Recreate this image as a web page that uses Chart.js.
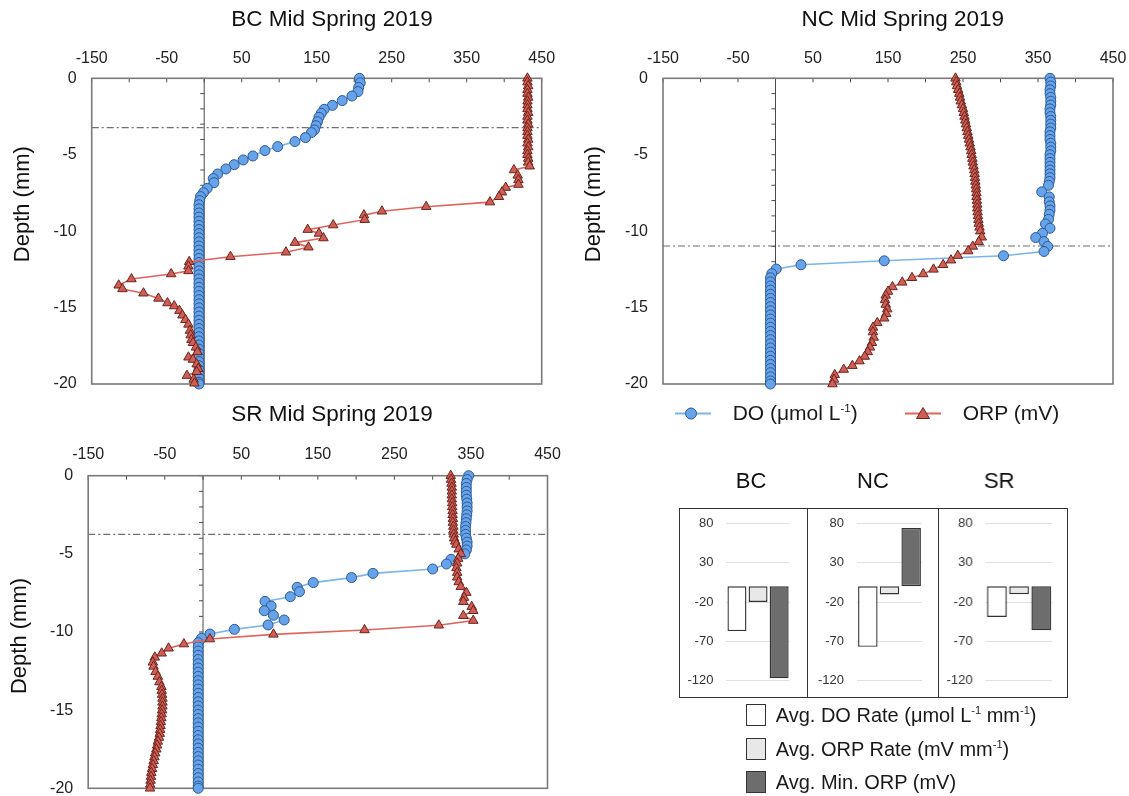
<!DOCTYPE html>
<html><head><meta charset="utf-8">
<script src="https://cdn.jsdelivr.net/npm/chart.js@4.4.1/dist/chart.umd.min.js"></script>
<style>
html,body{margin:0;padding:0;background:#fff;width:1129px;height:796px;overflow:hidden;position:relative;font-family:'Liberation Sans',Arial,sans-serif;color:#1a1a1a;}
.c{position:absolute;}
.box{position:absolute;border:1.5px solid #333;box-sizing:border-box;}
.t{position:absolute;white-space:nowrap;line-height:26px;}
.t sup{font-size:0.55em;position:relative;top:-0.75em;vertical-align:baseline;line-height:0;}
.sq{position:absolute;width:20px;height:22px;border:1.5px solid #333;box-sizing:border-box;}
</style></head><body>

<div class="box" style="left:678.5px;top:507.5px;width:129.5px;height:190.5px"></div>
<div class="box" style="left:806.5px;top:507.5px;width:132.5px;height:190.5px"></div>
<div class="box" style="left:937.5px;top:507.5px;width:130.5px;height:190.5px"></div>

<div class="c" style="left:0;top:0;width:664px;height:415px"><canvas id="bc"></canvas></div>
<div class="c" style="left:575px;top:0;width:655.4px;height:415px"><canvas id="nc"></canvas></div>
<div class="c" style="left:0;top:395px;width:664px;height:425px"><canvas id="sr"></canvas></div>

<div class="c" style="left:679.3px;top:455px;width:144px;height:255px"><canvas id="bbc"></canvas></div>
<div class="c" style="left:806.7px;top:455px;width:132px;height:255px"><canvas id="bnc"></canvas></div>
<div class="c" style="left:938.3px;top:455px;width:121.4px;height:255px"><canvas id="bsr"></canvas></div>

<svg class="c" style="left:675px;top:403.8px" width="36" height="19"><line x1="0" y1="9.5" x2="36" y2="9.5" stroke="#7ab6ee" stroke-width="2"/><circle cx="16" cy="9.5" r="5.5" fill="#66a3ea" stroke="#2d5a92" stroke-width="1"/></svg>
<div class="t" style="left:732.7px;top:400.3px;font-size:21px">DO (μmol L<sup>-1</sup>)</div>
<svg class="c" style="left:905px;top:403.8px" width="36" height="19"><line x1="0" y1="9.5" x2="36" y2="9.5" stroke="#e0645c" stroke-width="2"/><polygon points="18,3.5 24.5,14.5 11.5,14.5" fill="#cf5f55" stroke="#6e231d" stroke-width="1"/></svg>
<div class="t" style="left:962.7px;top:400.3px;font-size:21px">ORP (mV)</div>

<div class="sq" style="left:745.7px;top:704px;background:#fff"></div>
<div class="t" style="left:775.7px;top:702px;font-size:20px">Avg. DO Rate (μmol L<sup>-1</sup> mm<sup>-1</sup>)</div>
<div class="sq" style="left:745.7px;top:738.3px;background:#e8e8e8"></div>
<div class="t" style="left:775.7px;top:736.3px;font-size:20px">Avg. ORP Rate (mV mm<sup>-1</sup>)</div>
<div class="sq" style="left:745.7px;top:771px;background:#6d6d6d"></div>
<div class="t" style="left:775.7px;top:769px;font-size:20px">Avg. Min. ORP (mV)</div>

<script>
// ---------- data: BC ----------
const bcDoDepth = [0,-0.3,-0.6,-0.87,-1.16,-1.46,-1.77,-2.03,-2.29,-2.55,-2.84,-3.1,-3.38,-3.55,-3.88,-4.14,-4.47,-4.73,-5.08,-5.34,-5.65,-5.93,-6.26,-6.56,-6.83,-7.2,-7.48,-7.74,-8.0,
  -8.27,-8.54,-8.81,-9.08,-9.35,-9.62,-9.89,-10.16,-10.43,-10.7,-10.97,-11.24,-11.51,-11.78,-12.05,-12.32,-12.59,-12.86,-13.13,-13.4,-13.67,-13.94,-14.21,-14.48,-14.75,-15.02,-15.29,-15.56,-15.83,-16.1,-16.37,-16.64,-16.91,-17.18,-17.45,-17.72,-17.99,-18.26,-18.53,-18.8,-19.07,-19.34,-19.61,-19.88,-20];
const bcDo = [207,208,206,205,197,184,171,160,156,153,151,149,147,143,135,121,98,81,65,52,40,29,18,12,13,4,-1,-5,-6,
  -7,-7,-7,-7,-7,-7,-7,-7,-7,-7,-7,-7,-7,-7,-7,-7,-7,-7,-7,-7,-7,-7,-7,-7,-7,-7,-7,-7,-7,-7,-7,-7,-7,-7,-7,-7,-7,-7,-7,-7,-7,-7,-7,-7,-7];
const bcOrpDepth = [0,-0.25,-0.5,-0.75,-1,-1.25,-1.5,-1.75,-2,-2.25,-2.5,-2.75,-3,-3.25,-3.5,-3.75,-4,-4.25,-4.5,-4.75,-5,-5.25,-5.5,
  -5.75,-6.0,-6.35,-6.65,-6.95,-7.15,-7.45,-7.75,-8.1,-8.4,-8.7,-8.95,-9.25,-9.6,-9.9,-10.15,-10.45,-10.75,-11.05,-11.38,
  -11.67,-12.0,-12.3,-12.6,-12.8,-13.13,-13.54,-13.78,-14.06,-14.4,-14.7,-14.9,-15.2,-15.5,-15.8,-16.1,-16.5,-16.8,-17.1,-17.3,
  -17.6,-17.9,-18.25,-18.4,-18.7,-19.0,-19.2,-19.45,-19.7,-19.95];
const bcOrp = [431,431,432,431,431,432,431,431,431,432,431,431,432,431,431,431,432,431,432,431,431,432,432,
  434,413,418,419,419,402,397,393,381,296,237,213,214,172,138,153,159,121,139,109,
  35,-20,-21,-21,-44,-97,-114,-109,-81,-61,-49,-40,-33,-29,-25,-21,-19,-18,-17,-15,
  -11,-9,-21,-15,-10,-8,-10,-23,-14,-13];
const bcRedox = -3.23;

// ---------- data: NC ----------
const ncDoDepth = [0,-0.25,-0.5,-0.75,-1,-1.25,-1.5,-1.75,-2,-2.25,-2.5,-2.75,-3,-3.25,-3.5,-3.75,-4,-4.25,-4.5,-4.75,-5,-5.25,-5.5,-5.75,-6,-6.25,-6.5,-6.75,-7,
  -7.43,-7.76,-8.08,-8.35,-8.62,-8.9,-9.23,-9.53,-9.81,-10.14,-10.42,-10.68,-11.0,-11.33,-11.61,-11.94,-12.2,-12.48,-12.78,
  -13.05,-13.32,-13.59,-13.86,-14.13,-14.4,-14.67,-14.94,-15.21,-15.48,-15.75,-16.02,-16.29,-16.56,-16.83,-17.1,-17.37,-17.64,-17.91,-18.18,-18.45,-18.72,-18.99,-19.26,-19.53,-19.8,-20];
const ncDo = [366,367,367,366,366,367,367,367,366,366,367,367,367,367,366,366,366,367,367,367,366,366,366,366,366,366,366,365,364,
  355,365,365,366,366,365,364,360,366,356,347,358,363,358,304,145,34,1,-5,
  -6.7,-6.7,-6.7,-6.7,-6.7,-6.7,-6.7,-6.7,-6.7,-6.7,-6.7,-6.7,-6.7,-6.7,-6.7,-6.7,-6.7,-6.7,-6.7,-6.7,-6.7,-6.7,-6.7,-6.7,-6.7,-6.7,-6.7];
const ncOrpDepth = [0,-0.25,-0.5,-0.75,-1,-1.25,-1.5,-1.75,-2,-2.25,-2.5,-2.75,-3,-3.25,-3.5,-3.75,-4,-4.25,-4.5,-4.75,-5,-5.25,-5.5,-5.75,-6,-6.25,-6.5,-6.75,-7,-7.25,-7.5,-7.75,-8,-8.25,-8.5,-8.75,-9,-9.25,-9.5,-9.75,-10,
  -10.4,-10.7,-11.0,-11.3,-11.6,-11.9,-12.2,-12.5,-12.8,-13.05,-13.35,-13.65,-13.95,-14.2,-14.5,-14.8,-15.1,-15.4,-15.7,-16.0,
  -16.3,-16.6,-16.95,-17.3,-17.6,-17.9,-18.2,-18.5,-18.8,-19.05,-19.4,-19.7,-20];
const ncOrp = [240,241,242,243.5,245,246,247,248.5,250,251,252,253,254,255,256,257,258,259,260,261,261.5,262.5,263,264,265,265.5,266,266.5,267,267.5,268,268,268.5,269,269,269.5,270,270.5,271,272,273,
  275,271,263,257,243,234,223.5,210.7,197,182,169,156,150,147,146,147,149,147.6,145,135.7,
  130,130,131,128.6,126,123,119,112,102.5,91,79,78,76];
const ncRedox = -10.97;

// ---------- data: SR ----------
const srDoDepth = [0,-0.25,-0.5,-0.75,-1,-1.25,-1.5,-1.75,-2,-2.25,-2.5,-2.75,-3,-3.25,-3.5,-3.75,-4,-4.25,-4.5,-4.75,-5,
  -5.35,-5.65,-5.97,-6.25,-6.52,-6.84,-7.14,-7.42,-7.74,-8.04,-8.34,-8.64,-8.93,-9.23,-9.55,-9.83,-10.13,-10.4,
  -10.68,-10.95,-11.22,-11.49,-11.76,-12.03,-12.3,-12.57,-12.84,-13.11,-13.38,-13.65,-13.92,-14.19,-14.46,-14.73,-15.0,-15.27,-15.54,-15.81,-16.08,-16.35,-16.62,-16.89,-17.16,-17.43,-17.7,-17.97,-18.24,-18.51,-18.78,-19.05,-19.32,-19.59,-19.86,-20];
const srDo = [347,345,344,344,344,344,344.5,345,345,345,344.5,344,343.5,343,343,343,344,345,345,344,342,
  324,318,300,222,194,144,123,126,114,81,89,80,92,106,85,41,9,-2,
  -6.3,-6.3,-6.3,-6.3,-6.3,-6.3,-6.3,-6.3,-6.3,-6.3,-6.3,-6.3,-6.3,-6.3,-6.3,-6.3,-6.3,-6.3,-6.3,-6.3,-6.3,-6.3,-6.3,-6.3,-6.3,-6.3,-6.3,-6.3,-6.3,-6.3,-6.3,-6.3,-6.3,-6.3,-6.3,-6.3];
const srOrpDepth = [0,-0.25,-0.5,-0.75,-1,-1.25,-1.5,-1.75,-2,-2.25,-2.5,-2.75,-3,-3.25,-3.5,-3.75,-4,
  -4.2,-4.4,-4.7,-5.0,-5.3,-5.6,-5.9,-6.2,-6.5,-6.8,-7.1,-7.48,-7.8,-8.06,-8.38,-8.64,-8.96,-9.27,-9.57,-9.87,
  -10.15,-10.45,-10.77,-11.04,-11.36,-11.62,-11.94,-12.2,-12.55,-12.85,-13.2,-13.5,
  -13.75,-14,-14.25,-14.5,-14.75,-15,-15.25,-15.5,-15.75,-16,-16.25,-16.5,-16.75,-17,-17.25,-17.5,-17.75,-18,-18.25,-18.5,-18.75,-19,-19.25,-19.5,-19.75,-20];
const srOrp = [323.6,324,324.6,325,325,325,325,325.5,325.5,326,326,326.4,326.4,327,327,327.5,328,
  329.5,331,334,336.7,333.4,332,331,332,332,334,336.7,344,341,340,351,353,340,353,308,211,
  92,9,-25,-45,-54,-63,-65.5,-64.6,-62,-59,-57,-54.3,
  -54,-53.5,-53,-53,-53,-53.5,-54,-54.5,-55,-55.5,-56,-56.5,-57.5,-59,-60,-61,-62.5,-63.5,-64.5,-65.5,-66.5,-67.5,-68,-68.5,-69,-69.3];
const srRedox = -3.75;

// ---------- bar panel ----------
const barCategories = ['Avg. DO Rate', 'Avg. ORP Rate', 'Avg. Min. ORP'];
const bcBars = [-57, -20, -117];
const ncBars = [-77, -10.5, 74];
const srBars = [-39, -10, -56];
const barTickValues = [80, 30, -20, -70, -120];
const profileTickLabels = [-150, -50, 50, 150, 250, 350, 450];

const F = "'Liberation Sans', Arial, sans-serif";
Chart.defaults.font.family = F;
Chart.defaults.color = '#1a1a1a';

// empty right-hand axis used only as a spacer so the title centres over the whole canvas
function spacer(w) {
  return { type: 'linear', position: 'right', axis: 'y', display: true, min: 0, max: 1,
    ticks: { display: false }, grid: { display: false, drawTicks: false }, border: { display: false },
    afterFit: s => { s.width = w; } };
}

const deco = {
  id: 'profileDeco',
  beforeDatasetsDraw(chart, args, o) {
    const {ctx, chartArea: a, scales: {x, y}} = chart;
    ctx.save();
    const x0 = x.getPixelForValue(0);
    ctx.strokeStyle = '#4a4a4a'; ctx.lineWidth = 1;
    ctx.beginPath(); ctx.moveTo(x0, a.top); ctx.lineTo(x0, a.bottom);
    for (let d = y.min; d <= y.max; d += 1) { const py = y.getPixelForValue(d); ctx.moveTo(x0 - 4, py); ctx.lineTo(x0, py); }
    for (let v = x.min; v <= x.max; v += 50) { const px = x.getPixelForValue(v); ctx.moveTo(px, a.top); ctx.lineTo(px, a.top + 4); }
    ctx.stroke();
    const py = y.getPixelForValue(o.dash);
    ctx.strokeStyle = '#6f6f6f'; ctx.lineWidth = 1.2; ctx.setLineDash([7, 3, 2, 3]);
    ctx.beginPath(); ctx.moveTo(a.left, py); ctx.lineTo(a.right, py); ctx.stroke();
    ctx.setLineDash([]);
    ctx.strokeStyle = '#7a7a7a'; ctx.lineWidth = 1.6;
    ctx.strokeRect(a.left, a.top, a.width, a.height);
    ctx.translate(a.left - o.dx, (a.top + a.bottom) / 2 + o.dy);
    ctx.rotate(-Math.PI / 2);
    ctx.font = "22px " + F; ctx.fillStyle = '#111'; ctx.textAlign = 'center'; ctx.textBaseline = 'middle';
    ctx.fillText(o.text, 0, 0);
    ctx.restore();
  }
};

function pts(depth, vals) { return depth.map((d, i) => ({x: vals[i], y: d})); }

function profile(id, title, doD, doV, orpD, orpV, dash, L) {
  return new Chart(document.getElementById(id), {
    type: 'scatter',
    data: { datasets: [
      { label: 'DO (μmol L⁻¹)', data: pts(doD, doV), showLine: true, borderColor: '#7ab6ee', borderWidth: 1.6,
        pointStyle: 'circle', pointRadius: 5, pointBackgroundColor: '#66a3ea', pointBorderColor: '#2d5a92', pointBorderWidth: 1, order: 1, clip: 8 },
      { label: 'ORP (mV)', data: pts(orpD, orpV), showLine: true, borderColor: '#e0645c', borderWidth: 1.6,
        pointStyle: 'triangle', pointRadius: 5.5, pointBackgroundColor: '#cf5f55', pointBorderColor: '#6e231d', pointBorderWidth: 1, order: 0, clip: 8 }
    ]},
    options: {
      responsive: true, maintainAspectRatio: false, animation: false,
      layout: { padding: { left: 0, right: 0, top: 0, bottom: L.padB } },
      plugins: {
        legend: { display: false }, tooltip: { enabled: false },
        title: { display: true, text: title, color: '#111', font: { family: F, size: 22.5, weight: 'normal' }, padding: { top: 6.5, bottom: 0 } },
        profileDeco: { dash: dash, text: 'Depth (mm)', dx: 68.7, dy: L.tdy }
      },
      scales: {
        x: { type: 'linear', position: 'top', min: -150, max: 450,
          afterBuildTicks: s => { s.ticks = profileTickLabels.map(v => ({ value: v })); },
          ticks: { padding: L.tp, font: { family: F, size: 16 }, color: '#222', maxRotation: 0 },
          grid: { display: false, drawTicks: false }, border: { display: false },
          afterFit: s => { s.height = L.xh; } },
        y: { type: 'linear', position: 'left', min: -20, max: 0,
          ticks: { stepSize: 5, padding: 15, font: { family: F, size: 16 }, color: '#222' },
          grid: { display: false, drawTicks: false }, border: { display: false },
          afterFit: s => { s.width = L.yw; } },
        ySpacer: spacer(L.padR)
      }
    },
    plugins: [deco]
  });
}

profile('bc', 'BC Mid Spring 2019', bcDoDepth, bcDo, bcOrpDepth, bcOrp, bcRedox, { padR: 122.3, padB: 31, xh: 44.8, yw: 91.7, tp: 9.7, tdy: -27 });
profile('nc', 'NC Mid Spring 2019', ncDoDepth, ncDo, ncOrpDepth, ncOrp, ncRedox, { padR: 117.4, padB: 31, xh: 44.8, yw: 88, tp: 9.7, tdy: -27 });
profile('sr', 'SR Mid Spring 2019', srDoDepth, srDo, srOrpDepth, srOrp, srRedox, { padR: 116.5, padB: 31.7, xh: 47.2, yw: 88.2, tp: 11.1, tdy: 4 });

function bars(id, title, vals, L) {
  return new Chart(document.getElementById(id), {
    type: 'bar',
    data: { labels: barCategories, datasets: [{ data: vals, yAxisID: 'y',
      backgroundColor: ['#ffffff', '#e8e8e8', '#6d6d6d'], borderColor: '#333', borderWidth: 1.4, borderSkipped: false,
      categoryPercentage: 1, barPercentage: 0.9 }] },
    options: {
      responsive: true, maintainAspectRatio: false, animation: false,
      layout: { padding: { left: 0, right: 0, top: 0, bottom: 29.3 } },
      plugins: {
        legend: { display: false }, tooltip: { enabled: false },
        title: { display: true, text: title, color: '#111', font: { family: F, size: 22, weight: 'normal' }, padding: { top: 13.5, bottom: 28.4 } }
      },
      scales: {
        x: { display: false },
        y: { position: 'left', min: -120, max: 80,
          afterBuildTicks: s => { s.ticks = barTickValues.map(v => ({ value: v })); },
          ticks: { padding: 13, font: { family: F, size: 13 }, color: '#333' },
          grid: { color: '#e0e0e0', lineWidth: 1, drawTicks: false }, border: { display: false },
          afterFit: s => { s.width = L.yw; } },
        ySpacer: spacer(L.padR)
      }
    }
  });
}
bars('bbc', 'BC', bcBars, { padR: 33.3, yw: 47.4 });
bars('bnc', 'NC', ncBars, { padR: 17, yw: 50 });
bars('bsr', 'SR', srBars, { padR: 8, yw: 47.4 });
</script>
</body></html>
